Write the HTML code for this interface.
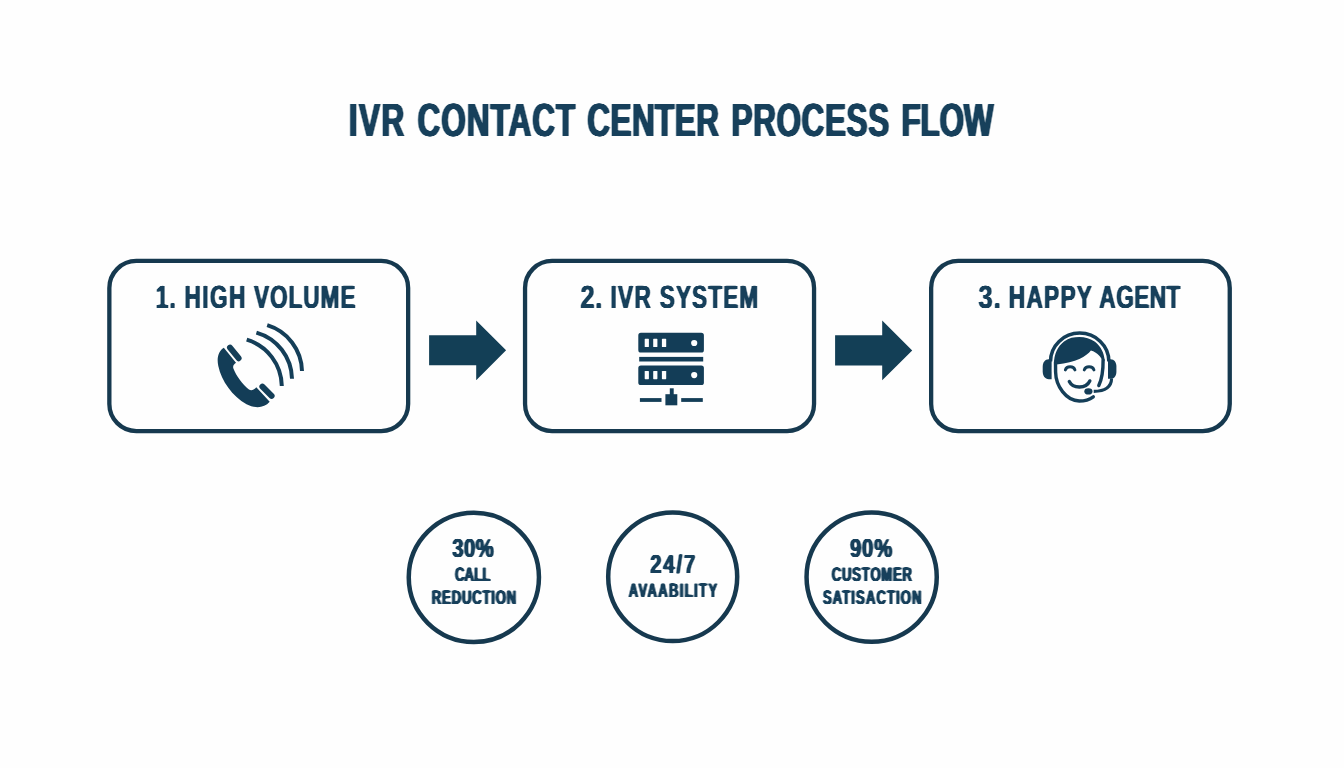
<!DOCTYPE html>
<html lang="en">
<head>
<meta charset="utf-8">
<title>IVR Contact Center Process Flow</title>
<style>
  html, body { margin: 0; padding: 0; background: #fefefe; }
  body { width: 1344px; height: 768px; overflow: hidden; position: relative; }
  svg { position: absolute; left: 0; top: 0; display: block; }
  text {
    font-family: "Liberation Sans", Arial, Helvetica, sans-serif;
    font-weight: 700;
    fill: #17405b;
  }
  .box { fill: none; stroke: #16394f; stroke-width: 4.3; }
  .ring { fill: none; stroke: #16394f; stroke-width: 4.5; }
  .solid { fill: #133f56; }
  .ink { fill: #133d57; }
</style>
</head>
<body>
<svg width="1344" height="768" viewBox="0 0 1344 768">

  <!-- ============ TEXT ============ -->
  <defs>
    <filter id="fat-title" x="-5%" y="-20%" width="110%" height="140%" color-interpolation-filters="sRGB"><feGaussianBlur in="SourceAlpha" stdDeviation="1.0 0" result="b"/><feComponentTransfer in="b" result="t"><feFuncA type="linear" slope="2.5" intercept="-0.1609"/></feComponentTransfer><feFlood flood-color="#17405b"/><feComposite in2="t" operator="in"/></filter>
    <filter id="fat-label" x="-5%" y="-20%" width="110%" height="140%" color-interpolation-filters="sRGB"><feGaussianBlur in="SourceAlpha" stdDeviation="0.8 0" result="b"/><feComponentTransfer in="b" result="t"><feFuncA type="linear" slope="2.5" intercept="-0.3846"/></feComponentTransfer><feFlood flood-color="#17405b"/><feComposite in2="t" operator="in"/></filter>
    <filter id="fat-big" x="-5%" y="-20%" width="110%" height="140%" color-interpolation-filters="sRGB"><feGaussianBlur in="SourceAlpha" stdDeviation="0.8 0" result="b"/><feComponentTransfer in="b" result="t"><feFuncA type="linear" slope="2.5" intercept="-0.2935"/></feComponentTransfer><feFlood flood-color="#17405b"/><feComposite in2="t" operator="in"/></filter>
    <filter id="fat-small" x="-5%" y="-20%" width="110%" height="140%" color-interpolation-filters="sRGB"><feGaussianBlur in="SourceAlpha" stdDeviation="0.8 0" result="b"/><feComponentTransfer in="b" result="t"><feFuncA type="linear" slope="2.5" intercept="-0.2387"/></feComponentTransfer><feFlood flood-color="#17405b"/><feComposite in2="t" operator="in"/></filter>
  </defs>
  <g id="txt-title" font-size="46.40" filter="url(#fat-title)">
    <text transform="translate(348.81 136.00) rotate(0.03) scale(0.680 1)" textLength="81.63" lengthAdjust="spacing">IVR</text>
    <text transform="translate(417.47 136.00) rotate(0.03) scale(0.680 1)" textLength="232.05" lengthAdjust="spacing">CONTACT</text>
    <text transform="translate(587.33 136.00) rotate(0.03) scale(0.680 1)" textLength="193.65" lengthAdjust="spacing">CENTER</text>
    <text transform="translate(731.55 136.00) rotate(0.03) scale(0.680 1)" textLength="231.85" lengthAdjust="spacing">PROCESS</text>
    <text transform="translate(901.55 136.00) rotate(0.03) scale(0.680 1)" textLength="135.37" lengthAdjust="spacing">FLOW</text>
  </g>
  <g id="txt-label" font-size="32.35" filter="url(#fat-label)">
    <text transform="translate(155.64 308.00) rotate(0.03) scale(0.700 1)" textLength="28.91" lengthAdjust="spacing">1.</text>
    <text transform="translate(184.57 308.00) rotate(0.03) scale(0.700 1)" textLength="86.95" lengthAdjust="spacing">HIGH</text>
    <text transform="translate(254.00 308.00) rotate(0.03) scale(0.700 1)" textLength="144.99" lengthAdjust="spacing">VOLUME</text>
    <text transform="translate(580.38 308.00) rotate(0.03) scale(0.780 1)" textLength="28.21" lengthAdjust="spacing">2.</text>
    <text transform="translate(610.57 308.00) rotate(0.03) scale(0.700 1)" textLength="57.43" lengthAdjust="spacing">IVR</text>
    <text transform="translate(659.74 308.00) rotate(0.03) scale(0.700 1)" textLength="140.67" lengthAdjust="spacing">SYSTEM</text>
    <text transform="translate(978.51 308.00) rotate(0.03) scale(0.780 1)" textLength="28.67" lengthAdjust="spacing">3.</text>
    <text transform="translate(1008.78 308.00) rotate(0.03) scale(0.700 1)" textLength="118.85" lengthAdjust="spacing">HAPPY</text>
    <text transform="translate(1099.36 308.00) rotate(0.03) scale(0.700 1)" textLength="115.70" lengthAdjust="spacing">AGENT</text>
  </g>
  <g id="txt-big" font-size="26.00" filter="url(#fat-big)">
    <text transform="translate(452.23 557.00) rotate(0.03) scale(0.780 1)" textLength="53.16" lengthAdjust="spacing">30%</text>
    <text transform="translate(650.19 573.00) rotate(0.03) scale(0.780 1)" textLength="57.95" lengthAdjust="spacing">24/7</text>
    <text transform="translate(849.93 557.00) rotate(0.03) scale(0.780 1)" textLength="54.28" lengthAdjust="spacing">90%</text>
  </g>
  <g id="txt-small" font-size="19.75" filter="url(#fat-small)">
    <text transform="translate(454.99 581.00) rotate(0.03) scale(0.660 1)" textLength="53.60" lengthAdjust="spacing">CALL</text>
    <text transform="translate(431.87 604.00) rotate(0.03) scale(0.660 1)" textLength="127.61" lengthAdjust="spacing">REDUCTION</text>
    <text transform="translate(628.74 597.00) rotate(0.03) scale(0.660 1)" textLength="133.85" lengthAdjust="spacing">AVAABILITY</text>
    <text transform="translate(831.84 581.00) rotate(0.03) scale(0.660 1)" textLength="121.40" lengthAdjust="spacing">CUSTOMER</text>
    <text transform="translate(822.92 604.00) rotate(0.03) scale(0.660 1)" textLength="149.26" lengthAdjust="spacing">SATISACTION</text>
  </g>

  <!-- ============ BOXES ============ -->
  <rect class="box" x="109.35" y="260.95" width="298.8" height="170.1" rx="27" ry="27"/>
  <rect class="box" x="525.05" y="260.95" width="289" height="170.1" rx="27" ry="27"/>
  <rect class="box" x="931.15" y="260.95" width="298.6" height="170.1" rx="27" ry="27"/>


  <!-- ============ ARROWS ============ -->
  <polygon class="solid" points="429.1,335.3 476.2,335.3 476.2,320.4 506.1,350.3 476.2,380.3 476.2,365.3 429.1,365.3"/>
  <polygon class="solid" points="835.1,335.3 882.2,335.3 882.2,320.4 912.2,350.4 882.2,380.3 882.2,365.4 835.1,365.4"/>

  <!-- ============ STAT CIRCLES ============ -->
  <ellipse class="ring" cx="473.85" cy="577.35" rx="65.1" ry="64.6"/>
  <ellipse class="ring" cx="672.7" cy="576.8" rx="64.5" ry="64.3"/>
  <ellipse class="ring" cx="871.65" cy="577.1" rx="65.1" ry="64.65"/>


  <!-- ============ ICON 1: RINGING PHONE ============ -->
  <g id="icon-phone">
    <!-- handset body -->
    <path class="ink" d="M223.8 347.8
             C218.2 351.5 216.6 358 218.3 366
             C221.5 381 232.5 396.5 246.5 404.2
             C255 408.6 264 408.3 269.7 401.8
             L256.3 387.2
             C253.4 390.6 251 391 248.6 389.2
             C242.6 384.6 236.2 376 233.4 368.6
             C232.6 366.3 233.6 364.4 236 362.8 Z"/>
    <!-- ear / mouth pieces -->
    <line x1="230" y1="347.6" x2="238.6" y2="358.2" stroke="#143e58" stroke-width="6" stroke-linecap="round"/>
    <line x1="262.4" y1="386.6" x2="271.6" y2="395.8" stroke="#143e58" stroke-width="6" stroke-linecap="round"/>
    <!-- sound waves -->
    <g fill="none" stroke="#143e58" stroke-width="4" stroke-linecap="butt">
      <path d="M246.7 339.7 A49 49 0 0 1 281.8 386"/>
      <path d="M256.4 332.6 A49 49 0 0 1 292 378.8"/>
      <path d="M267.2 325.2 A49 49 0 0 1 302 371"/>
    </g>
  </g>

  <!-- ============ ICON 2: SERVER RACK ============ -->
  <g id="icon-server">
    <rect class="ink" x="638.3" y="332.8" width="65.6" height="19.7" rx="2.6"/>
    <rect class="ink" x="639.2" y="356.9" width="64" height="4.6"/>
    <rect class="ink" x="638.3" y="365.4" width="65.6" height="19.7" rx="2.6"/>
    <g fill="#fefefe">
      <rect x="644.7" y="338.8" width="4.2" height="8.3" rx="0.6"/>
      <rect x="653.2" y="338.8" width="4.2" height="8.3" rx="0.6"/>
      <rect x="661.9" y="338.8" width="4.3" height="8.3" rx="0.6"/>
      <circle cx="694.2" cy="343" r="3.1"/>
      <rect x="644.7" y="370.9" width="4.2" height="8.3" rx="0.6"/>
      <rect x="653.2" y="370.9" width="4.2" height="8.3" rx="0.6"/>
      <rect x="661.9" y="370.9" width="4.3" height="8.3" rx="0.6"/>
      <circle cx="694.2" cy="375.1" r="3.1"/>
    </g>
    <rect class="ink" x="669.8" y="388.3" width="3.9" height="7"/>
    <rect class="ink" x="665.4" y="394.2" width="11.9" height="11.1"/>
    <rect class="ink" x="639.9" y="398.1" width="21.6" height="3.8"/>
    <rect class="ink" x="681.2" y="398.1" width="21.6" height="3.8"/>
  </g>

  <!-- ============ ICON 3: HAPPY AGENT ============ -->
  <g id="icon-agent">
    <!-- headband -->
    <path d="M1050.5 361.5 A29.2 28.4 0 0 1 1108.9 361.5" fill="none" stroke="#143e58" stroke-width="3.5"/>
    <!-- ear cups -->
    <path class="ink" d="M1051.6 359.3 L1051.6 379.2 L1048.8 379.2 C1044.9 379.2 1042.7 376 1042.7 371.6 L1042.7 366.9 C1042.7 362.5 1044.9 359.3 1048.8 359.3 Z"/>
    <path class="ink" d="M1108 359.3 L1108 378.8 L1110.6 378.8 C1114.3 378.8 1116.4 375.7 1116.4 371.4 L1116.4 366.7 C1116.4 362.4 1114.3 359.3 1110.6 359.3 Z"/>
    <!-- hair -->
    <path class="ink" d="M1054 364.2
             C1053.8 354 1058 346 1064 341.4
             C1069 337.8 1074 337 1079.3 337
             C1085 337 1090.5 338.6 1095 341.8
             C1100.5 346 1104.4 353 1104.6 360.6
             L1102.8 361.9
             C1101.6 357.6 1097.4 352.4 1090.9 350.6
             C1086.5 356.4 1076 362.6 1056.6 364.4 Z"/>
    <!-- face outline -->
    <g fill="none" stroke="#143e58" stroke-width="3.4" stroke-linecap="round" stroke-linejoin="round">
      <path d="M1055.5 362 L1055.6 372 C1055.8 386 1066 400.6 1079.3 401 C1084.6 401 1089.4 399.6 1093.3 396.8"/>
      <path d="M1103.1 360 C1103.2 369 1102.4 378 1098.8 385.6"/>
      <!-- eyes -->
      <path d="M1065.4 369.9 C1066.6 365.8 1073.6 365.8 1074.9 369.9" stroke-width="3"/>
      <path d="M1084.3 369.9 C1085.6 365.8 1092.6 365.8 1093.9 369.9" stroke-width="3"/>
      <!-- smile -->
      <path d="M1069.3 381.4 C1073 388.9 1086 388.9 1089.8 380.9"/>
      <!-- mic boom -->
      <path d="M1111.6 378.5 C1111.4 386 1106.6 391.2 1093.7 391.4" stroke-width="3.1" stroke-linecap="butt"/>
    </g>
    <ellipse class="ink" cx="1088.4" cy="391.4" rx="4.1" ry="3.1"/>
  </g>


</svg>
</body>
</html>
